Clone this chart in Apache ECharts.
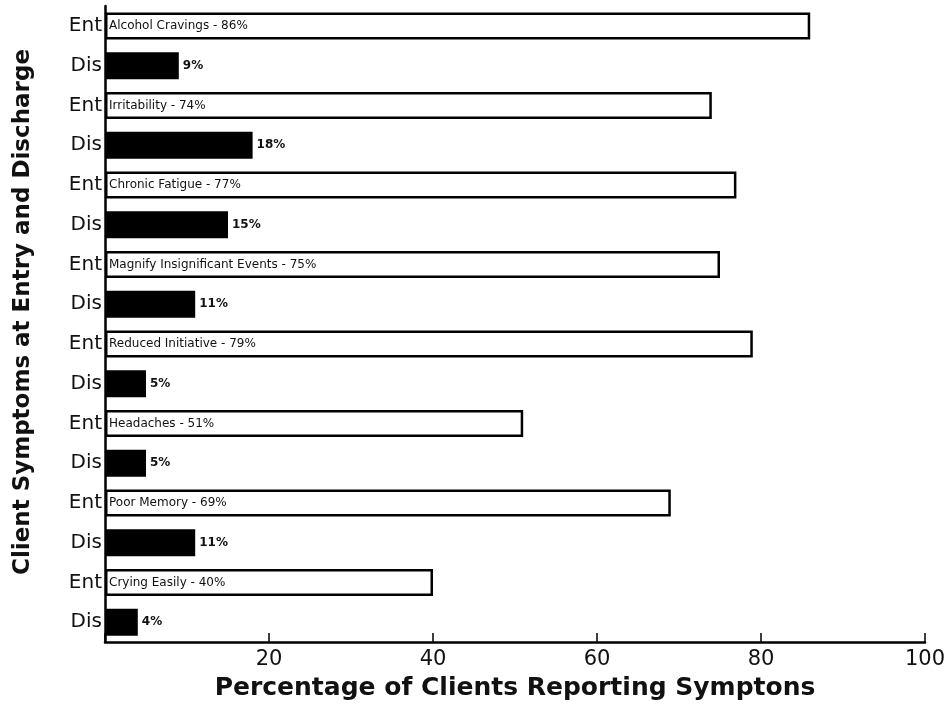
<!DOCTYPE html>
<html>
<head>
<meta charset="utf-8">
<script src="https://cdn.jsdelivr.net/npm/echarts@6/dist/echarts.min.js"></script>
<style>html,body{margin:0;padding:0;background:#fff;}#c{width:951px;height:707px;}</style>
</head>
<body>
<div id="c"></div>
<script>
var symptoms = ["Alcohol Cravings", "Irritability", "Chronic Fatigue", "Magnify Insignificant Events", "Reduced Initiative", "Headaches", "Poor Memory", "Crying Easily"];
var entryValues = [86, 74, 77, 75, 79, 51, 69, 40];
var dischargeValues = [9, 18, 15, 11, 5, 5, 11, 4];
var rowLabels = ["Ent", "Dis"];
var xTicks = [0, 20, 40, 60, 80, 100];

var cats = [], entData = [], disData = [];
symptoms.forEach(function (s, i) {
  cats.push(rowLabels[0]); cats.push(rowLabels[1]);
  entData.push({ value: entryValues[i], name: s }); entData.push('-');
  disData.push('-'); disData.push(dischargeValues[i]);
});

var chart = echarts.init(document.getElementById('c'));
chart.setOption({
  animation: false,
  backgroundColor: '#fff',
  grid: { left: 105, right: 26, top: 6, bottom: 65, containLabel: false },
  xAxis: {
    type: 'value', min: xTicks[0], max: xTicks[xTicks.length - 1], interval: 20,
    name: 'Percentage of Clients Reporting Symptons',
    nameLocation: 'middle', nameGap: 34,
    nameTextStyle: { fontFamily: 'DejaVu Sans', fontWeight: 'bold', fontSize: 25, color: '#111' },
    axisLine: { show: true, lineStyle: { color: '#000', width: 2.5 } },
    axisTick: { show: true, inside: true, length: 9, lineStyle: { color: '#000', width: 1.5 } },
    axisLabel: { fontFamily: 'DejaVu Sans', fontSize: 21, color: '#111', margin: 7,
      formatter: function (v) { return v === 0 ? '' : String(v); } },
    splitLine: { show: false }
  },
  yAxis: {
    type: 'category', data: cats, inverse: true,
    name: 'Client Symptoms at Entry and Discharge',
    nameLocation: 'middle', nameGap: 70, nameRotate: 90,
    nameTextStyle: { fontFamily: 'DejaVu Sans', fontWeight: 'bold', fontSize: 23, color: '#111', padding: [0, 0, 0, 24] },
    axisLine: { show: true, lineStyle: { color: '#000', width: 2.5 } },
    axisTick: { show: false },
    axisLabel: { fontFamily: 'DejaVu Sans', fontSize: 20, color: '#111', margin: 3 }
  },
  series: [
    {
      type: 'bar', data: entData, barWidth: 27, barGap: '-100%',
      itemStyle: { color: '#fff', borderColor: '#000', borderWidth: 2.5 },
      label: { show: true, position: 'insideLeft', distance: 4, fontFamily: 'DejaVu Sans', fontSize: 12, color: '#111',
        formatter: function (p) { return p.name + ' - ' + p.value + '%'; } }
    },
    {
      type: 'bar', data: disData, barWidth: 27,
      itemStyle: { color: '#000' },
      label: { show: true, position: 'right', distance: 4, fontFamily: 'DejaVu Sans', fontWeight: 'bold', fontSize: 12, color: '#111',
        formatter: function (p) { return p.value + '%'; } }
    }
  ]
});
</script>
</body>
</html>
